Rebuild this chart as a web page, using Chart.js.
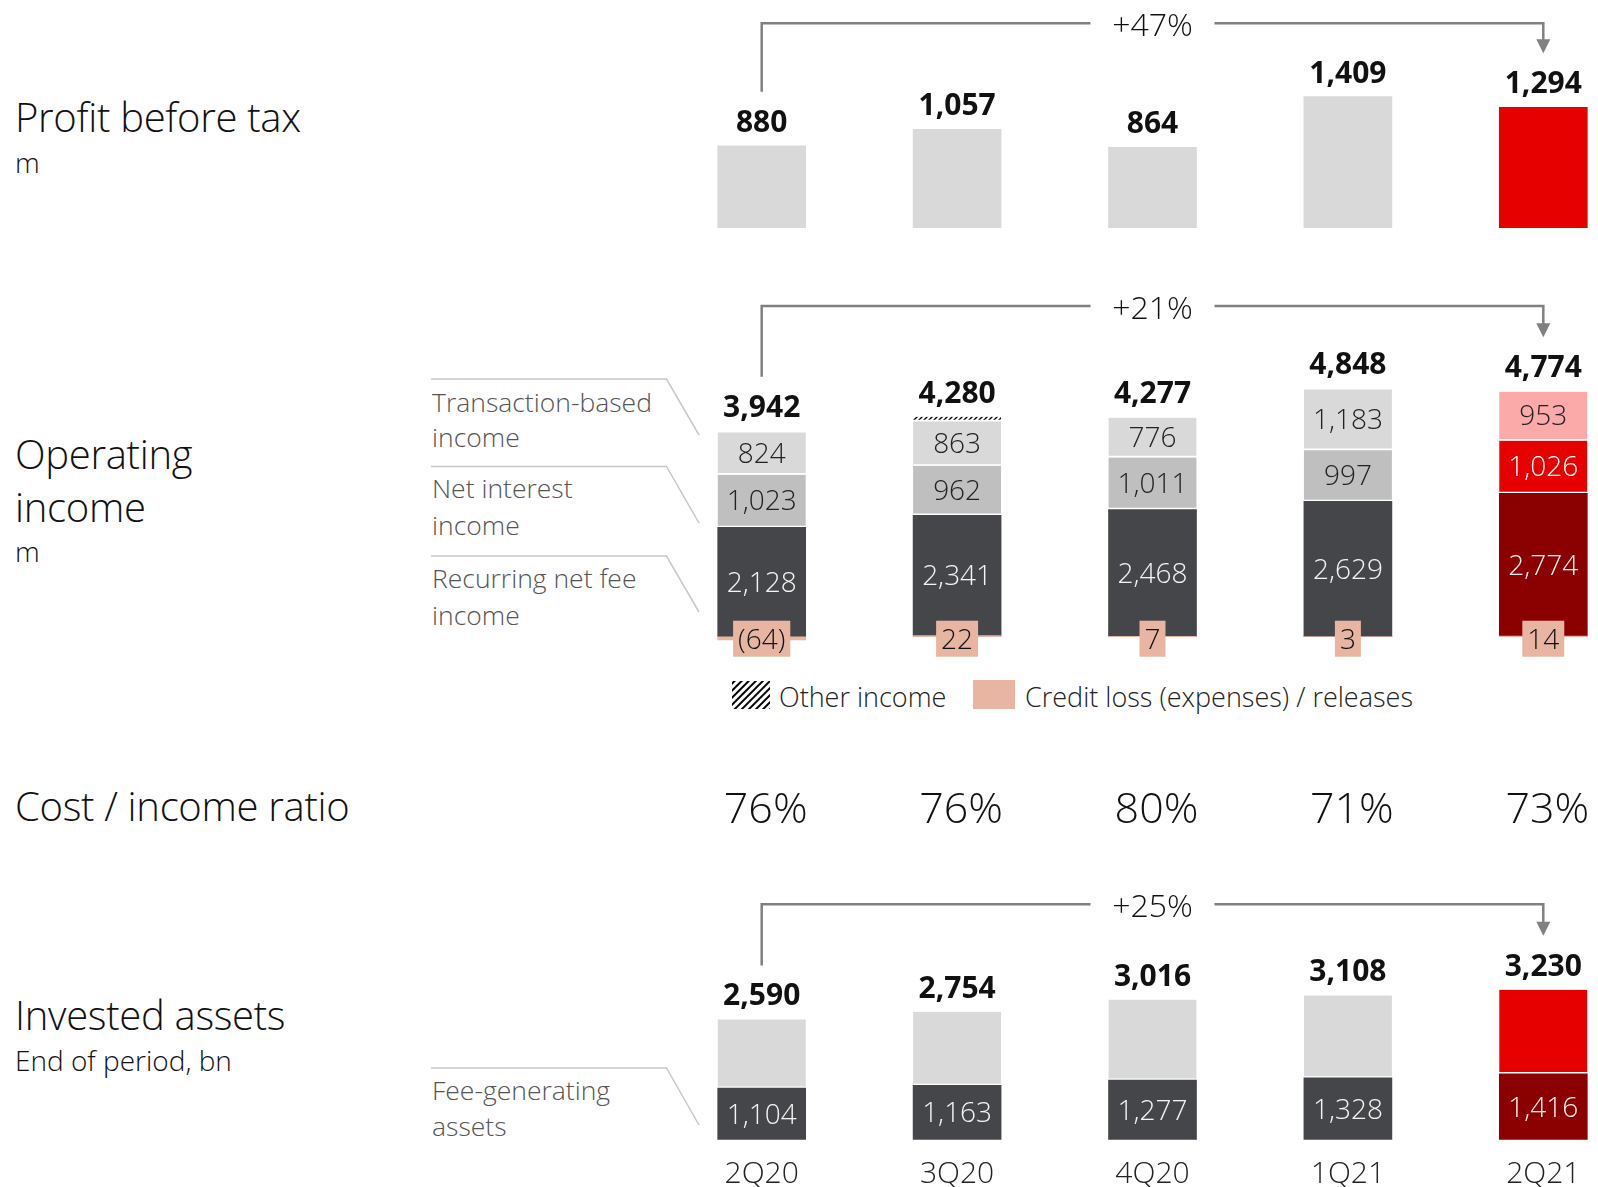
<!DOCTYPE html>
<html><head><meta charset="utf-8">
<script src="https://cdn.jsdelivr.net/npm/chart.js@4.4.1/dist/chart.umd.min.js"></script>
<style>
html,body{margin:0;padding:0;background:#fff;overflow:hidden;}
#wrap{position:relative;width:1598px;height:1187px;overflow:hidden;background:#fff;}
canvas{position:absolute;}
svg{position:absolute;left:0;top:0;}
</style></head><body>
<div id="wrap">
<svg width="1598" height="1187" font-family="'Open Sans', sans-serif" font-weight="300">
  <defs>
    <pattern id="hatch" width="5" height="5" patternUnits="userSpaceOnUse" patternTransform="rotate(45)">
      <rect width="5" height="5" fill="#fff"/><line x1="1" y1="0" x2="1" y2="5" stroke="#000" stroke-width="2"/>
    </pattern>
  </defs>
  <g fill="#111" font-size="40" letter-spacing="-0.3">
    <text x="15" y="131.5">Profit before tax</text>
    <text x="15" y="469">Operating</text>
    <text x="15" y="521.5">income</text>
    <text x="15" y="820.5">Cost / income ratio</text>
    <text x="15" y="1030">Invested assets</text>
  </g>
  <g fill="#111" font-size="28">
    <text x="15" y="172.5">m</text>
    <text x="15" y="561.5">m</text>
    <text x="15" y="1071">End of period, bn</text>
  </g>
  <g stroke="#c8c8c8" stroke-width="1.5" fill="none">
    <polyline points="431,379 666.5,379 699,435"/>
    <polyline points="431,466.5 666.5,466.5 699,523"/>
    <polyline points="431,556 666.5,556 699,612"/>
    <polyline points="431,1068 666.5,1068 699,1125"/>
  </g>
  <g fill="#555" font-size="26.5">
    <text x="432" y="411.5">Transaction-based</text>
    <text x="432" y="447">income</text>
    <text x="432" y="498">Net interest</text>
    <text x="432" y="535">income</text>
    <text x="432" y="588">Recurring net fee</text>
    <text x="432" y="625">income</text>
    <text x="432" y="1100">Fee-generating</text>
    <text x="432" y="1136">assets</text>
  </g>
  <rect x="732" y="681" width="38" height="28" fill="url(#hatch)"/>
  <rect x="973" y="680" width="42" height="29" fill="#e7b5a2"/>
  <g fill="#222" font-size="27">
    <text x="779" y="707">Other income</text>
    <text x="1025" y="707">Credit loss (expenses) / releases</text>
  </g>
</svg>
<canvas id="c1" width="977" height="250" style="left:664px;top:0px"></canvas>
<canvas id="c2" width="977" height="560" style="left:664px;top:280px"></canvas>
<canvas id="c3" width="977" height="317" style="left:664px;top:870px"></canvas>
</div>
<script>
// ---------- data ----------
const quarters = ['2Q20', '3Q20', '4Q20', '1Q21', '2Q21'];
const profitBeforeTax = [880, 1057, 864, 1409, 1294];
const recurringNetFee = [2128, 2341, 2468, 2629, 2774];
const netInterest = [1023, 962, 1011, 997, 1026];
const transactionBased = [824, 863, 776, 1183, 953];
const otherIncome = [31, 92, 15, 36, 7];
const creditLoss = [-64, 22, 7, 3, 14];
const operatingIncome = [3942, 4280, 4277, 4848, 4774];
const costIncomeRatio = [76, 76, 80, 71, 73];
const feeGeneratingAssets = [1104, 1163, 1277, 1328, 1416];
const otherInvestedAssets = [1486, 1591, 1739, 1780, 1814];
const investedAssets = [2590, 2754, 3016, 3108, 3230];
const growth = ['+47%', '+21%', '+25%'];

// ---------- styles ----------
const FONT = '"Open Sans", sans-serif';
const LIGHT = '#d9d9d9', MID = '#bfbfbf', DARK = '#454649', RED = '#e60000', DRED = '#8b0000', PINK = '#fba9a9', SALMON = '#e7b5a2';
const hl = (base, last) => quarters.map((q, i) => i === quarters.length - 1 ? last : base);

function makeHatch() {
  const c = document.createElement('canvas'); c.width = 5; c.height = 5;
  const g = c.getContext('2d');
  g.fillStyle = '#fff'; g.fillRect(0, 0, 5, 5);
  g.strokeStyle = '#000'; g.lineWidth = 1.4;
  g.beginPath(); g.moveTo(-1, 6); g.lineTo(6, -1); g.moveTo(-1, 1); g.lineTo(1, -1); g.moveTo(4, 6); g.lineTo(6, 4); g.stroke();
  return g.createPattern(c, 'repeat');
}
const fmt = v => v < 0 ? '(' + Math.abs(v).toLocaleString('en-US') + ')' : v.toLocaleString('en-US');

function baseOpts(ymin, ymax) {
  return {
    responsive: false, animation: false, maintainAspectRatio: false, devicePixelRatio: 1,
    layout: { padding: 0 }, events: [],
    plugins: { legend: { display: false }, tooltip: { enabled: false } },
    scales: {
      x: { display: false, stacked: true, offset: true, grid: { display: false } },
      y: { display: false, stacked: true, min: ymin, max: ymax }
    }
  };
}

function drawGrowth(ctx, x0, x1, yLine, yLeft, yTip, text) {
  ctx.save();
  ctx.strokeStyle = '#808080'; ctx.fillStyle = '#808080'; ctx.lineWidth = 2.5;
  const xm = (x0 + x1) / 2, gap = 62;
  ctx.beginPath(); ctx.moveTo(x0, yLeft); ctx.lineTo(x0, yLine); ctx.lineTo(xm - gap, yLine); ctx.stroke();
  ctx.beginPath(); ctx.moveTo(xm + gap, yLine); ctx.lineTo(x1, yLine); ctx.lineTo(x1, yTip - 10); ctx.stroke();
  ctx.beginPath(); ctx.moveTo(x1 - 7, yTip - 14); ctx.lineTo(x1 + 7, yTip - 14); ctx.lineTo(x1, yTip); ctx.closePath(); ctx.fill();
  ctx.font = '300 32px ' + FONT; ctx.fillStyle = '#111'; ctx.textAlign = 'center'; ctx.textBaseline = 'alphabetic';
  ctx.fillText(text, xm, yLine + 13);
  ctx.restore();
}

function totalLabel(ctx, text, x, top) {
  ctx.font = 'bold 30px ' + FONT; ctx.fillStyle = '#111'; ctx.textAlign = 'center'; ctx.textBaseline = 'alphabetic';
  const base = top - 14;
  ctx.fillText(text, x, base);
  return base;
}

// ---------- chart 1: profit before tax ----------
new Chart(document.getElementById('c1'), {
  type: 'bar',
  data: { labels: quarters, datasets: [{ data: profitBeforeTax, backgroundColor: hl(LIGHT, RED), barThickness: 88, borderWidth: 0 }] },
  options: baseOpts(-239.5, 2445.7),
  plugins: [{
    id: 'pbt',
    afterDatasetsDraw(chart) {
      const ctx = chart.ctx; ctx.save();
      const meta = chart.getDatasetMeta(0);
      const bases = meta.data.map((el, i) => totalLabel(ctx, fmt(profitBeforeTax[i]), el.x, el.y));
      const n = meta.data.length - 1;
      drawGrowth(ctx, meta.data[0].x, meta.data[n].x, 23.3, bases[0] - 40, bases[n] - 40, growth[0]);
      ctx.restore();
    }
  }]
});

// ---------- chart 2: operating income ----------
const hatch = makeHatch();
const gapBorder = { top: 0, left: 0, right: 0, bottom: 2 };
new Chart(document.getElementById('c2'), {
  type: 'bar',
  data: {
    labels: quarters,
    datasets: [
      { label: 'Credit loss (expenses) / releases', data: creditLoss, backgroundColor: SALMON, barThickness: 88, borderWidth: 0 },
      { label: 'Recurring net fee income', data: recurringNetFee, backgroundColor: hl(DARK, DRED), barThickness: 88, borderWidth: 0, labelColor: hl('#f4f4f4', '#f4f4f4') },
      { label: 'Net interest income', data: netInterest, backgroundColor: hl(MID, RED), barThickness: 88, borderWidth: gapBorder, borderColor: '#fff', borderSkipped: false, labelColor: hl('#222', '#fff') },
      { label: 'Transaction-based income', data: transactionBased, backgroundColor: hl(LIGHT, PINK), barThickness: 88, borderWidth: gapBorder, borderColor: '#fff', borderSkipped: false, labelColor: hl('#222', '#222') },
      { label: 'Other income', data: otherIncome, barThickness: 88, borderWidth: gapBorder, borderColor: '#fff', borderSkipped: false,
        // the hatch is only visible where the strip is tall enough to show
        backgroundColor: c => (c.raw >= 50 ? hatch : 'rgba(255,255,255,0)') }
    ]
  },
  options: baseOpts(-3955, 6940),
  plugins: [{
    id: 'op',
    afterDatasetsDraw(chart) {
      const ctx = chart.ctx; ctx.save();
      const y0 = chart.scales.y.getPixelForValue(0);
      ctx.textAlign = 'center'; ctx.textBaseline = 'alphabetic';
      [1, 2, 3].forEach(d => {
        const ds = chart.data.datasets[d];
        chart.getDatasetMeta(d).data.forEach((el, i) => {
          const off = d > 1 ? 1 : 0;
          ctx.font = '300 28px ' + FONT; ctx.fillStyle = ds.labelColor[i];
          ctx.fillText(fmt(ds.data[i]), el.x, (el.y + el.base) / 2 - off + 10);
        });
      });
      const topMeta = chart.getDatasetMeta(4).data;
      const bases = topMeta.map((el, i) => totalLabel(ctx, fmt(operatingIncome[i]), el.x, Math.min(el.y, el.base)));
      // credit loss boxes
      chart.getDatasetMeta(0).data.forEach((el, i) => {
        const t = fmt(creditLoss[i]);
        ctx.font = '300 28px ' + FONT;
        const w = ctx.measureText(t).width + 10;
        const cy = y0 + 2;
        ctx.fillStyle = SALMON; ctx.fillRect(el.x - w / 2, cy - 18, w, 36);
        ctx.fillStyle = '#111'; ctx.textAlign = 'center'; ctx.fillText(t, el.x, cy + 10);
      });
      // cost / income ratio row
      topMeta.forEach((el, i) => {
        ctx.font = '300 43px ' + FONT; ctx.fillStyle = '#111'; ctx.textAlign = 'center';
        ctx.fillText(costIncomeRatio[i] + '%', el.x + 4, 543);
      });
      const n = topMeta.length - 1;
      drawGrowth(ctx, topMeta[0].x, topMeta[n].x, 26, bases[0] - 40, bases[n] - 40, growth[1]);
      ctx.restore();
    }
  }]
});

// ---------- chart 3: invested assets ----------
new Chart(document.getElementById('c3'), {
  type: 'bar',
  data: {
    labels: quarters,
    datasets: [
      { label: 'Fee-generating assets', data: feeGeneratingAssets, backgroundColor: hl(DARK, DRED), barThickness: 88, borderWidth: 0 },
      { label: 'Other invested assets', data: otherInvestedAssets, backgroundColor: hl(LIGHT, RED), barThickness: 88, borderWidth: gapBorder, borderColor: '#fff', borderSkipped: false }
    ]
  },
  options: baseOpts(-1030, 5816),
  plugins: [{
    id: 'ia',
    afterDatasetsDraw(chart) {
      const ctx = chart.ctx; ctx.save();
      ctx.textAlign = 'center'; ctx.textBaseline = 'alphabetic';
      chart.getDatasetMeta(0).data.forEach((el, i) => {
        ctx.font = '300 28px ' + FONT; ctx.fillStyle = '#f4f4f4';
        ctx.fillText(fmt(feeGeneratingAssets[i]), el.x, (el.y + el.base) / 2 + 10);
      });
      const topMeta = chart.getDatasetMeta(1).data;
      const bases = topMeta.map((el, i) => totalLabel(ctx, fmt(investedAssets[i]), el.x, el.y));
      topMeta.forEach((el, i) => {
        ctx.font = '300 30px ' + FONT; ctx.fillStyle = '#222'; ctx.textAlign = 'center';
        ctx.fillText(chart.data.labels[i], el.x, 313);
      });
      const n = topMeta.length - 1;
      drawGrowth(ctx, topMeta[0].x, topMeta[n].x, 34.3, bases[0] - 40, bases[n] - 40, growth[2]);
      ctx.restore();
    }
  }]
});
</script>
</body></html>
